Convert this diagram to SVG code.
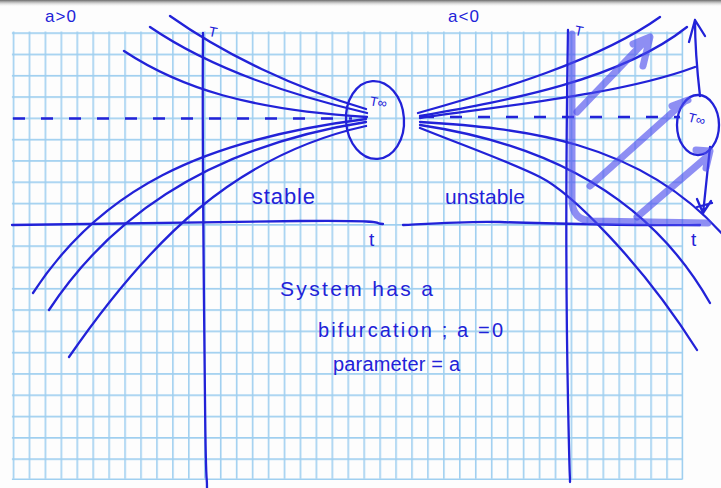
<svg xmlns="http://www.w3.org/2000/svg" width="721" height="488" viewBox="0 0 721 488">
<defs>
<linearGradient id="topShade" x1="0" y1="0" x2="0" y2="1">
<stop offset="0" stop-color="#6a6a6a"/>
<stop offset="1" stop-color="#ffffff" stop-opacity="0"/>
</linearGradient>
<pattern id="grid" x="12.7" y="32.3" width="15.94" height="21.3" patternUnits="userSpaceOnUse">
<path d="M0.8,0 V21.3 M0,0.8 H15.94" fill="none" stroke="#9fcff0" stroke-width="1.6"/>
</pattern>
<style>
.ink{fill:none;stroke:#2222d8;stroke-width:2.3;stroke-linecap:round;stroke-linejoin:round}
.dash{fill:none;stroke:#2222d8;stroke-width:2.3;stroke-dasharray:12 16}
.hl{fill:none;stroke:#4a4aee;stroke-opacity:0.62;stroke-width:7;stroke-linecap:round;stroke-linejoin:round}
.txt{fill:#2222d8;font-family:"Liberation Sans","DejaVu Sans",sans-serif}
</style>
</defs>
<rect x="0" y="0" width="721" height="488" fill="#fdfdfd"/>
<rect x="0" y="0" width="721" height="7" fill="url(#topShade)"/>
<g id="grid-paper">
<rect x="11.9" y="31.5" width="670.7" height="447.3" fill="url(#grid)"/>
<path d="M682.4,31.5 V479.6 M11.9,479.2 H682.4" stroke="#9fcff0" stroke-width="1.6" fill="none"/>
</g>

<g id="left-plot">
<path class="dash" d="M13,118.5 H352"/>
<path class="ink" d="M203,33 C202,150 204,300 205,400 S207,470 207,488"/>
<path class="ink" d="M12,225 C100,224 200,222 300,221 S370,224 383,224"/>
<path class="ink" d="M170,16 C225,55 295,88 366,109"/>
<path class="ink" d="M150,27 C210,68 290,95 367,113"/>
<path class="ink" d="M124,51 C180,88 250,110 367,117"/>
<path class="ink" d="M33,293 C100,190 200,140 366,119"/>
<path class="ink" d="M49,310 C115,210 220,145 366,122"/>
<path class="ink" d="M69,357 C150,240 235,155 366,126"/>
<ellipse class="ink" cx="375" cy="120" rx="29" ry="39" transform="rotate(-4 375 120)"/>
<text class="txt" x="370" y="107" font-size="13" transform="rotate(10 380 102)">T∞</text>
<text class="txt" x="45" y="22" font-size="17" letter-spacing="1">a&gt;0</text>
<text class="txt" x="209" y="37" font-size="14" transform="rotate(12 214 31)">T</text>
<text class="txt" x="369" y="246" font-size="19">t</text>
<text class="txt" x="252" y="204" font-size="22" textLength="63">stable</text>
</g>

<g id="right-plot">
<path class="dash" d="M422,117 H680"/>
<path class="ink" d="M568,30 C566,150 566,300 568,400 S570,470 570,482"/>
<path class="ink" d="M403,225 C440,223 470,221 500,222 S650,226 700,225"/>
<path class="ink" d="M418,113 C500,90 600,60 660,17"/>
<path class="ink" d="M420,116 C510,100 620,80 687,27"/>
<path class="ink" d="M420,118 C500,106 620,95 695,67"/>
<path class="ink" d="M420,122 C520,128 640,140 724,236"/>
<path class="ink" d="M420,125 C520,140 640,180 710,303"/>
<path class="ink" d="M420,128 C470,148 510,162 540,177 S640,260 697,350"/>
<ellipse class="ink" cx="698" cy="125" rx="21" ry="30"/>
<text class="txt" x="688" y="124" font-size="13" transform="rotate(15 698 120)">T∞</text>
<path class="ink" d="M700,96 C697,70 695,45 695,20 M689,42 L695,20 L705,36"/>
<path class="ink" d="M710,147 L703,214 M697,199 L703,213 L711,201 M697,207 L712,203"/>
<path class="hl" d="M572,34 L572,200 Q572,220 592,221 L708,223"/>
<path class="hl" d="M577,112 L648,38 M633,44 L650,37 L643,66"/>
<path class="hl" d="M590,186 L684,102 M672,106 L688,100"/>
<path class="hl" d="M637,217 L708,156 M696,150 L710,151 L706,168"/>
<text class="txt" x="448" y="22" font-size="17" letter-spacing="1">a&lt;0</text>
<text class="txt" x="575" y="36" font-size="14" transform="rotate(12 580 30)">T</text>
<text class="txt" x="691" y="246" font-size="19">t</text>
<text class="txt" x="445" y="204" font-size="21" textLength="80">unstable</text>
</g>

<g id="notes">
<text class="txt" x="280" y="296" font-size="21" textLength="153">System has a</text>
<text class="txt" x="318" y="337" font-size="20" textLength="185">bifurcation ; a =0</text>
<text class="txt" x="333" y="371" font-size="20" textLength="127">parameter = a</text>
</g>
</svg>
